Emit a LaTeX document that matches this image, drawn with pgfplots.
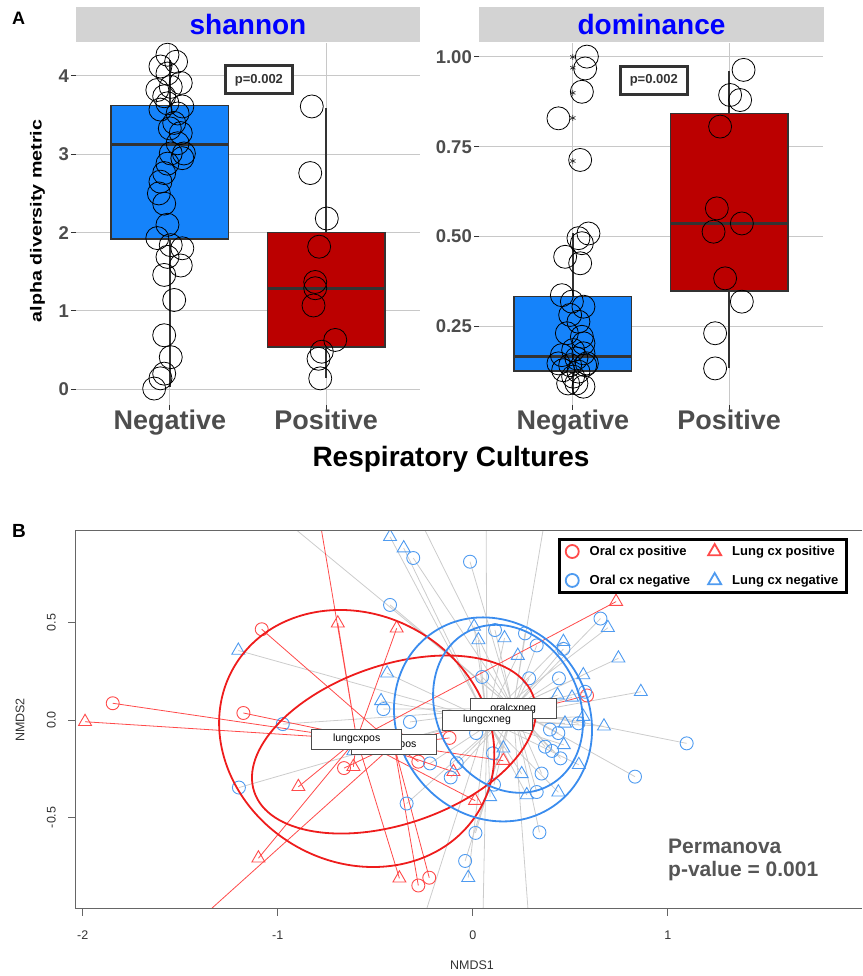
\documentclass[border=0pt]{standalone}
\usepackage{fontspec}
\setmainfont{Liberation Sans}
\usepackage{pgfplots}
\pgfplotsset{compat=1.18}
\usepgfplotslibrary{statistics}
\definecolor{boxblue}{HTML}{1583FA}
\definecolor{boxred}{HTML}{BB0000}
\definecolor{boxline}{HTML}{333333}
\definecolor{gridgray}{HTML}{C8C8C8}
\definecolor{ticktext}{HTML}{4D4D4D}
\definecolor{stripgray}{HTML}{D3D3D3}
\definecolor{stripblue}{HTML}{0000FF}
\definecolor{pred}{HTML}{FF4A4A}
\definecolor{pblue}{HTML}{4F9BF0}
\definecolor{ered}{HTML}{EE1C1C}
\definecolor{eblue}{HTML}{3A8CEE}
\definecolor{spgray}{HTML}{CCCCCC}
\definecolor{bframe}{HTML}{666666}
\definecolor{permgray}{HTML}{555555}
\newcommand{\myfs}[1]{\fontsize{#1}{#1}\selectfont}
\pgfplotsset{
  panelA/.style={
    scale only axis, width=344pt, height=362pt, anchor=south west,
    xmin=0.4, xmax=2.6,
    axis line style={draw=none},
    grid=major, major grid style={draw=gridgray, line width=1pt},
    tick align=outside, major tick length=5pt,
    tick style={draw=boxline, line width=1pt},
    xtick pos=bottom, ytick pos=left,
    xtick={1,2}, xticklabels={Negative,Positive},
    xticklabel style={font=\bfseries\myfs{27}, text=ticktext, inner sep=0pt},
    yticklabel style={font=\bfseries\myfs{18.5}, text=ticktext, inner sep=0pt, xshift=-2pt},
    boxplot/draw direction=y,
    boxplot/every median/.style={draw=boxline, line width=3pt},
    boxplot/every whisker/.style={draw=boxline, line width=1.5pt},
  }
}
\begin{document}
\begin{tikzpicture}[x=1pt,y=1pt]
\path[use as bounding box] (0,0) rectangle (862,976);
% strips
\fill[stripgray] (76,933.7) rectangle (420,969.3);
\fill[stripgray] (479,933.7) rectangle (824,969.3);
\node[anchor=base, font=\bfseries\myfs{28}, text=stripblue, inner sep=0] at (248,941) {shannon};
\node[anchor=base, font=\bfseries\myfs{28}, text=stripblue, inner sep=0] at (651.5,941) {dominance};
\node[anchor=base west, font=\bfseries\myfs{18}, inner sep=0] at (12,951) {A};
\node[anchor=base west, font=\bfseries\myfs{19}, inner sep=0] at (12,438) {B};
\node[rotate=90, font=\bfseries\myfs{16}, inner sep=0] at (37.5,755) {\scalebox{1.23}[1]{alpha diversity metric}};
\node[anchor=base, font=\bfseries\myfs{28}, inner sep=0] at (451,509.3) {Respiratory Cultures};

% ---------- shannon ----------
\begin{axis}[panelA, at={(76pt,571pt)}, ymin=-0.2, ymax=4.42,
  ytick={0,1,2,3,4}, yticklabels={0,1,2,3,4}]
\addplot[boxplot prepared={lower whisker=0.03, lower quartile=1.92, median=3.13,
  upper quartile=3.62, upper whisker=4.2, draw position=1, box extend=0.75, whisker extend=0},
  draw=boxline, fill=boxblue, line width=1.5pt] coordinates {};
\addplot[boxplot prepared={lower whisker=0.14, lower quartile=0.54, median=1.29,
  upper quartile=2.0, upper whisker=3.59, draw position=2, box extend=0.75, whisker extend=0},
  draw=boxline, fill=boxred, line width=1.5pt] coordinates {};
\addplot[only marks, mark=o, mark size=11.5pt, color=black, line width=0.8pt] coordinates {
(0.985,4.27)(1.04,4.18)(0.94,4.12)(0.985,4.03)(1.07,3.91)(0.92,3.82)(1.006,3.86)(0.964,3.74)
(1.08,3.61)(0.985,3.65)(1.05,3.52)(0.94,3.57)(1.028,3.40)(1.0,3.33)(1.07,3.27)(1.05,3.14)
(1.09,3.01)(1.08,2.95)(1.006,3.01)(0.985,2.88)(0.964,2.76)(0.94,2.65)(0.93,2.50)(0.964,2.37)
(0.985,2.10)(0.92,1.93)(1.006,1.84)(1.08,1.80)(0.985,1.69)(1.07,1.58)(0.964,1.46)(1.028,1.14)
(0.964,0.69)(1.006,0.41)(0.964,0.20)(0.94,0.14)(0.9,0.01)};
\addplot[only marks, mark=o, mark size=11.5pt, color=black, line width=0.8pt] coordinates {
(1.908,3.61)(1.898,2.76)(2.004,2.18)(1.955,1.82)(1.93,1.37)(1.93,1.29)(1.919,1.07)
(2.058,0.63)(1.972,0.48)(1.951,0.39)(1.962,0.14)};
\node[draw=boxline, line width=3pt, fill=white, minimum width=67pt, minimum height=28pt,
  inner sep=0pt, font=\bfseries\myfs{13}, text=boxline] at (axis cs:1.57,3.95) {p=0.002};
\end{axis}

% ---------- dominance ----------
\begin{axis}[panelA, at={(479pt,571pt)}, ymin=0.03, ymax=1.039,
  ytick={0.25,0.5,0.75,1}, yticklabels={0.25,0.50,0.75,1.00}]
\addplot[boxplot prepared={lower whisker=0.06, lower quartile=0.125, median=0.166,
  upper quartile=0.332, upper whisker=0.509, draw position=1, box extend=0.75, whisker extend=0},
  draw=boxline, fill=boxblue, line width=1.5pt] coordinates {};
\addplot[boxplot prepared={lower whisker=0.132, lower quartile=0.348, median=0.536,
  upper quartile=0.843, upper whisker=0.962, draw position=2, box extend=0.75, whisker extend=0},
  draw=boxline, fill=boxred, line width=1.5pt] coordinates {};
\addplot[only marks, mark=asterisk, mark size=3pt, color=boxline, line width=0.7pt] coordinates {
(1,1.0)(1,0.97)(1,0.90)(1,0.83)(1,0.71)};
\addplot[only marks, mark=o, mark size=11.5pt, color=black, line width=0.8pt] coordinates {
(1.09,1.001)(1.079,0.968)(1.058,0.903)(0.908,0.829)(1.047,0.713)(1.10,0.508)(1.036,0.495)
(1.058,0.481)(0.951,0.443)(1.047,0.425)(0.93,0.336)(0.994,0.318)(1.068,0.304)(0.983,0.281)
(1.036,0.262)(0.962,0.230)(1.058,0.220)(1.068,0.202)(1.002,0.183)(0.93,0.169)(1.068,0.174)
(1.023,0.160)(0.908,0.146)(0.983,0.141)(1.079,0.141)(0.938,0.127)(1.036,0.123)(1.002,0.109)
(0.97,0.090)(1.068,0.081)(1.023,0.090)(1.09,0.146)};
\addplot[only marks, mark=o, mark size=11.5pt, color=black, line width=0.8pt] coordinates {
(2.092,0.964)(2.006,0.894)(2.07,0.880)(1.942,0.806)(1.921,0.578)(2.081,0.536)(1.90,0.513)
(1.974,0.383)(2.081,0.318)(1.91,0.230)(1.91,0.132)};
\node[draw=boxline, line width=3pt, fill=white, minimum width=67pt, minimum height=28pt,
  inner sep=0pt, font=\bfseries\myfs{13}, text=boxline] at (axis cs:1.518,0.934) {p=0.002};
\end{axis}

% ---------- NMDS ----------
\begin{axis}[at={(75pt,67pt)}, anchor=south west, scale only axis,
  width=786pt, height=378.3pt,
  xmin=-2.0395, xmax=1.991, ymin=-0.9707, ymax=0.9723,
  axis line style={draw=none},
  tick align=outside, major tick length=7pt,
  tick style={draw=bframe, line width=0.9pt},
  xtick pos=bottom, ytick pos=left,
  xtick={-2,-1,0,1}, xticklabels={-2,-1,0,1},
  ytick={-0.5,0,0.5}, yticklabels={-0.5,0.0,0.5},
  xticklabel style={font=\myfs{12.5}, text=black!80, inner sep=0pt, yshift=-15pt},
  yticklabel style={font=\myfs{12.5}, text=black!80, inner sep=0pt, xshift=-12pt, rotate=90, anchor=south},
  clip marker paths=true,
  legend columns=2, legend cell align=left,
  legend style={at={(0.6148,0.982)}, anchor=north west, draw=black, line width=3pt,
    font=\bfseries\myfs{13}, inner xsep=6pt, inner ysep=5pt, row sep=14pt,
    /tikz/every odd column/.append style={column sep=9pt},
    /tikz/every even column/.append style={column sep=16pt}},
  legend image code/.code={\draw[#1, line width=1.8pt] plot coordinates {(6pt,0pt)};},
]
% spiders
\addplot[forget plot, spgray, line width=0.8pt] coordinates {
(0.207,0.059)(-0.245,0.975)(0.207,0.059)(-0.305,0.832)(0.207,0.059)(-0.014,0.813)(0.207,0.059)(-0.424,0.591)(0.207,0.059)(0.114,0.462)(0.207,0.059)(0.268,0.445)(0.207,0.059)(0.328,0.383)(0.207,0.059)(0.465,0.365)(0.207,0.059)(0.655,0.521)(0.207,0.059)(0.048,0.221)(0.207,0.059)(0.289,0.214)(0.207,0.059)(0.442,0.214)(0.207,0.059)(0.576,0.145)(0.207,0.059)(-0.974,-0.021)(0.207,0.059)(-0.458,0.056)(0.207,0.059)(-0.322,-0.010)(0.207,0.059)(0.017,-0.067)(0.207,0.059)(0.396,-0.049)(0.207,0.059)(0.439,-0.067)(0.207,0.059)(0.542,-0.017)(0.207,0.059)(0.371,-0.137)(0.207,0.059)(0.407,-0.159)(0.207,0.059)(0.450,-0.197)(0.207,0.059)(0.104,-0.171)(0.207,0.059)(-0.219,-0.223)(0.207,0.059)(-0.113,-0.295)(0.207,0.059)(-0.082,-0.222)(0.207,0.059)(0.353,-0.275)(0.207,0.059)(0.109,-0.332)(0.207,0.059)(0.328,-0.370)(0.207,0.059)(-0.339,-0.429)(0.207,0.059)(-1.199,-0.347)(0.207,0.059)(0.014,-0.580)(0.207,0.059)(0.342,-0.577)(0.207,0.059)(-0.039,-0.724)(0.207,0.059)(1.097,-0.120)(0.207,0.059)(0.832,-0.291)(0.207,0.059)(-1.091,1.130)(0.207,0.059)(0.395,1.181)(0.207,0.059)(0.295,-1.130)};
\addplot[forget plot, spgray, line width=0.8pt] coordinates {
(0.073,0)(-0.424,0.941)(0.073,0)(-0.354,0.883)(0.073,0)(-1.202,0.357)(0.073,0)(-0.439,0.240)(0.073,0)(-0.470,0.098)(0.073,0)(-0.612,-0.159)(0.073,0)(0.007,0.480)(0.073,0)(0.029,0.411)(0.073,0)(0.163,0.421)(0.073,0)(0.465,0.402)(0.073,0)(0.693,0.474)(0.073,0)(0.231,0.331)(0.073,0)(0.747,0.317)(0.073,0)(0.567,0.231)(0.073,0)(0.862,0.145)(0.073,0)(0.435,0.128)(0.073,0)(0.509,0.116)(0.073,0)(0.567,0.017)(0.073,0)(0.673,-0.032)(0.073,0)(0.473,-0.017)(0.073,0)(0.467,-0.128)(0.073,0)(0.157,-0.145)(0.073,0)(0.544,-0.230)(0.073,0)(0.251,-0.277)(0.073,0)(0.277,-0.385)(0.073,0)(0.439,-0.371)(0.073,0)(0.089,-0.395)(0.073,0)(-0.023,-0.810)(0.073,0)(0.068,1.181)(0.073,0)(-0.287,-1.130)(0.073,0)(0.050,-1.130)};
\addplot[forget plot, pred, line width=0.8pt] coordinates {
(-0.404,-0.126)(-1.846,0.086)(-0.404,-0.126)(-1.176,0.036)(-0.404,-0.126)(-1.082,0.466)(-0.404,-0.126)(-0.660,-0.247)(-0.404,-0.126)(-0.279,-0.850)(-0.404,-0.126)(-0.223,-0.810)(-0.404,-0.126)(-0.279,-0.214)(-0.404,-0.126)(-0.119,-0.092)(-0.404,-0.126)(0.586,0.126)(-0.404,-0.126)(-0.373,-0.103)(-0.404,-0.126)(-1.449,-1.067)};
\addplot[forget plot, pred, line width=0.8pt] coordinates {
(-0.595,-0.098)(-1.988,-0.009)(-0.595,-0.098)(-0.692,0.497)(-0.595,-0.098)(-0.390,0.471)(-0.595,-0.098)(-0.894,-0.343)(-0.595,-0.098)(-1.099,-0.710)(-0.595,-0.098)(-0.376,-0.813)(-0.595,-0.098)(-0.612,-0.240)(-0.595,-0.098)(0.735,0.608)(-0.595,-0.098)(0.157,-0.209)(-0.595,-0.098)(0.012,-0.414)(-0.595,-0.098)(-0.099,-0.266)(-0.595,-0.098)(-0.819,1.233)};
% points
\addplot[only marks, mark=o, mark size=6.5pt, color=pred, line width=0.9pt] coordinates {
(-1.846,0.086)(-1.176,0.036)(-1.082,0.466)(-0.660,-0.247)(-0.279,-0.850)(-0.223,-0.810)(-0.279,-0.214)(-0.119,-0.092)(0.586,0.126)(-0.373,-0.103)};
\addlegendentry{Oral cx positive}
\addplot[only marks, mark=triangle, mark size=7.5pt, color=pred, line width=0.9pt] coordinates {
(-1.988,-0.009)(-0.692,0.497)(-0.390,0.471)(-0.894,-0.343)(-1.099,-0.710)(-0.376,-0.813)(-0.612,-0.240)(0.735,0.608)(0.157,-0.209)(0.012,-0.414)(-0.099,-0.266)};
\addlegendentry{Lung cx positive}
\addplot[only marks, mark=o, mark size=6.5pt, color=pblue, line width=0.9pt] coordinates {
(-0.245,0.975)(-0.305,0.832)(-0.014,0.813)(-0.424,0.591)(0.114,0.462)(0.268,0.445)(0.328,0.383)(0.465,0.365)(0.655,0.521)(0.048,0.221)(0.289,0.214)(0.442,0.214)(0.576,0.145)(-0.974,-0.021)(-0.458,0.056)(-0.322,-0.010)(0.017,-0.067)(0.396,-0.049)(0.439,-0.067)(0.542,-0.017)(0.371,-0.137)(0.407,-0.159)(0.450,-0.197)(0.104,-0.171)(-0.219,-0.223)(-0.113,-0.295)(-0.082,-0.222)(0.353,-0.275)(0.109,-0.332)(0.328,-0.370)(-0.339,-0.429)(-1.199,-0.347)(0.014,-0.580)(0.342,-0.577)(-0.039,-0.724)(1.097,-0.120)(0.832,-0.291)};
\addlegendentry{Oral cx negative}
\addplot[only marks, mark=triangle, mark size=7.5pt, color=pblue, line width=0.9pt] coordinates {
(-0.424,0.941)(-0.354,0.883)(-1.202,0.357)(-0.439,0.240)(-0.470,0.098)(-0.612,-0.159)(0.007,0.480)(0.029,0.411)(0.163,0.421)(0.465,0.402)(0.693,0.474)(0.231,0.331)(0.747,0.317)(0.567,0.231)(0.862,0.145)(0.435,0.128)(0.509,0.116)(0.567,0.017)(0.673,-0.032)(0.473,-0.017)(0.467,-0.128)(0.157,-0.145)(0.544,-0.230)(0.251,-0.277)(0.277,-0.385)(0.439,-0.371)(0.089,-0.395)(-0.023,-0.810)};
\addlegendentry{Lung cx negative}
% ellipses
\draw[ered, line width=1.8pt, rotate around={-30.2:(axis cs:-0.595,-0.095)}] (axis cs:-0.595,-0.095) ellipse [x radius=142pt, y radius=123.6pt];
\draw[ered, line width=1.8pt, rotate around={18.8:(axis cs:-0.404,-0.126)}] (axis cs:-0.404,-0.126) ellipse [x radius=147.5pt, y radius=79.5pt];
\draw[eblue, line width=1.8pt, rotate around={126.8:(axis cs:0.104,0.003)}] (axis cs:0.104,0.003) ellipse [x radius=105.7pt, y radius=95.1pt];
\draw[eblue, line width=1.8pt, rotate around={117.3:(axis cs:0.181,0.0575)}] (axis cs:0.181,0.0575) ellipse [x radius=87pt, y radius=71.4pt];
% labels
\node[draw=black!70, fill=white, line width=0.8pt, minimum width=86pt, minimum height=20pt, inner sep=0pt, font=\myfs{10.5}] at (axis cs:0.207,0.059) {oralcxneg};
\node[draw=black!70, fill=white, line width=0.8pt, minimum width=90pt, minimum height=20pt, inner sep=0pt, font=\myfs{10.5}] at (axis cs:0.073,0) {lungcxneg};
\node[draw=black!70, fill=white, line width=0.8pt, minimum width=85pt, minimum height=20pt, inner sep=0pt, font=\myfs{10.5}] at (axis cs:-0.404,-0.126) {oralcxpos};
\node[draw=black!70, fill=white, line width=0.8pt, minimum width=90pt, minimum height=20pt, inner sep=0pt, font=\myfs{10.5}] at (axis cs:-0.595,-0.098) {lungcxpos};
\end{axis}
\draw[bframe, line width=1pt] (862,445.3) -- (75,445.3) -- (75,67) -- (862,67);
\node[rotate=90, font=\myfs{12.5}, text=black!80, inner sep=0] at (20,256) {NMDS2};
\node[font=\myfs{12.5}, text=black!80, inner sep=0] at (472,11) {NMDS1};
\node[anchor=base west, font=\bfseries\myfs{21}, text=permgray, inner sep=0] at (668,122) {Permanova};
\node[anchor=base west, font=\bfseries\myfs{21}, text=permgray, inner sep=0] at (668,99.3) {p-value = 0.001};
\end{tikzpicture}
\end{document}
